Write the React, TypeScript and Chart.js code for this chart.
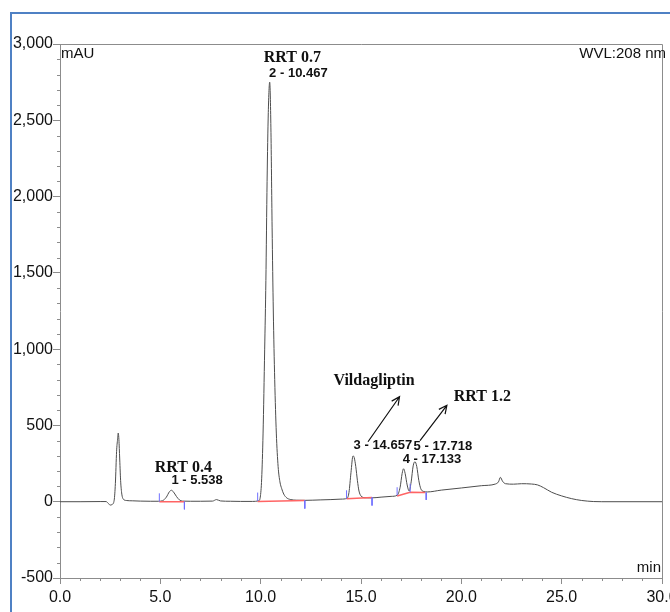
import React, { useEffect, useRef } from "react";
import { Chart, registerables } from "chart.js";

Chart.register(...registerables);

// Chromatogram trace (retention time in min, absorbance in mAU)
const retentionTime = [
  0.0, 1.0, 2.0, 2.3, 2.4, 2.5, 2.6, 2.7, 2.76, 2.82, 2.87, 2.9, 2.93, 2.97, 3.02, 3.08, 3.15, 3.3, 3.6, 4.0,
  4.5, 4.9, 5.1, 5.3, 5.45, 5.55, 5.65, 5.8, 5.95, 6.1, 6.5, 7.0, 7.6, 7.8, 8.0, 8.5, 9.0, 9.6, 9.9, 9.98,
  10.05, 10.12, 10.2, 10.26, 10.32, 10.38, 10.45, 10.51, 10.57, 10.63, 10.7, 10.78, 10.87, 10.96, 11.05, 11.15, 11.3, 11.5, 11.8, 12.2,
  13.0, 13.5, 14.0, 14.3,
  14.4, 14.5, 14.6, 14.66, 14.74, 14.82, 14.9, 15.0, 15.2, 15.5, 16.0, 16.5, 16.8, 16.95, 17.05, 17.12, 17.2, 17.3, 17.4, 17.5,
  17.6, 17.69, 17.78, 17.88, 17.98, 18.1, 18.3, 19.0, 20.0, 21.0, 21.7, 21.85, 21.95, 22.05, 22.2, 22.6, 23.0, 23.5, 23.8, 24.1,
  24.5, 25.0, 25.5, 26.0, 26.6, 27.0, 30.0,
];
const absorbance = [
  0, 0, 1, 1, -10, -22, -18, 10, 120, 330, 410, 450, 420, 300, 140, 50, 18, 8, 6, 4,
  3, 3, 6, 30, 65, 75, 65, 35, 12, 4, 3, 3, 4, 14, 5, 3, 2, 2, 6, 30,
  150, 450, 1000, 1450, 2100, 2550, 2750, 2450, 1800, 1250, 800, 450, 230, 130, 85, 50, 25, 14, 10, 9,
  12, 14, 17, 22,
  60, 190, 300, 290, 230, 140, 70, 38, 26, 25, 30, 35, 42, 95, 185, 216, 185, 110, 70, 130,
  235, 262, 230, 140, 85, 68, 64, 76, 90, 105, 116, 130, 160, 135, 118, 115, 118, 116, 110, 92,
  62, 38, 20, 8, 1, 0, 0,
];

// Integration baselines (red)
const baselineStartTime = [4.95, 9.85, 14.28, 16.8, 17.45];
const baselineStartValue = [0, 2, 20, 38, 62];
const baselineEndTime = [6.2, 12.2, 15.55, 17.45, 18.2];
const baselineEndValue = [0, 8, 27, 62, 60];

// Peak start / end markers (blue)
const markerTime = [4.95, 6.2, 9.85, 12.2, 14.28, 15.55, 16.8, 17.45, 18.25];
const markerFrom = [0, 0, 5, 8, 20, 28, 42, 62, 60];
const markerTo = [55, -50, 60, -45, 75, -25, 95, 118, 12];

// Peak labels
const peakLabels = ["1 - 5.538", "2 - 10.467", "3 - 14.657", "4 - 17.133", "5 - 17.718"];
const peakLabelTime = [6.83, 11.88, 16.09, 18.54, 19.08];
const peakLabelValue = [137, 2809, 367, 275, 360];

// Named impurity labels
const rrtLabels = ["RRT 0.4", "RRT 0.7", "Vildagliptin", "RRT 1.2"];
const rrtLabelTime = [6.15, 11.58, 15.65, 21.05];
const rrtLabelValue = [223, 2908, 792, 688];

// Arrows (from -> to)
const arrowFromTime = [15.35, 17.94];
const arrowFromValue = [393, 400];
const arrowToTime = [16.92, 19.28];
const arrowToValue = [688, 632];

// Axis ticks
const xTicks = [0, 5, 10, 15, 20, 25, 30];
const yTicks = [-500, 0, 500, 1000, 1500, 2000, 2500, 3000];

const SANS = "'Liberation Sans', Arial, sans-serif";
const SERIF = "'Liberation Serif', 'Times New Roman', serif";
const AXIS = "#8c8c8c";

const overlayPlugin = {
  id: "overlay",
  afterDraw(chart: any) {
    const { ctx, chartArea: a, scales } = chart;
    const x = scales.x;
    const y = scales.y;
    ctx.save();

    // plot box (top and right)
    ctx.strokeStyle = AXIS;
    ctx.lineWidth = 1;
    ctx.beginPath();
    ctx.moveTo(a.left, Math.round(a.top) + 0.5);
    ctx.lineTo(Math.round(a.right) + 0.5, Math.round(a.top) + 0.5);
    ctx.lineTo(Math.round(a.right) + 0.5, a.bottom);
    ctx.stroke();

    // minor ticks
    ctx.beginPath();
    for (let t = 0; t <= 30; t += 1) {
      if (t % 5 === 0) continue;
      const px = Math.round(x.getPixelForValue(t)) + 0.5;
      ctx.moveTo(px, a.bottom);
      ctx.lineTo(px, a.bottom + 3);
    }
    for (let v = -500; v <= 3000; v += 100) {
      if (v % 500 === 0) continue;
      const py = Math.round(y.getPixelForValue(v)) + 0.5;
      ctx.moveTo(a.left, py);
      ctx.lineTo(a.left - 3, py);
    }
    ctx.stroke();

    // corner texts
    ctx.fillStyle = "#111";
    ctx.font = `15px ${SANS}`;
    ctx.textBaseline = "middle";
    ctx.textAlign = "left";
    ctx.fillText("mAU", a.left + 1, a.top + 10);
    ctx.textAlign = "right";
    ctx.fillText("WVL:208 nm", a.right + 4, a.top + 10);
    ctx.fillText("min", a.right - 1, a.bottom - 10);

    // peak labels
    ctx.textAlign = "center";
    ctx.font = `bold 13px ${SANS}`;
    peakLabels.forEach((s, i) => {
      ctx.fillText(s, x.getPixelForValue(peakLabelTime[i]), y.getPixelForValue(peakLabelValue[i]));
    });

    // RRT labels
    ctx.font = `bold 16px ${SERIF}`;
    rrtLabels.forEach((s, i) => {
      ctx.fillText(s, x.getPixelForValue(rrtLabelTime[i]), y.getPixelForValue(rrtLabelValue[i]));
    });

    // arrows
    ctx.strokeStyle = "#111";
    ctx.lineWidth = 1.2;
    arrowFromTime.forEach((_, i) => {
      const x0 = x.getPixelForValue(arrowFromTime[i]);
      const y0 = y.getPixelForValue(arrowFromValue[i]);
      const x1 = x.getPixelForValue(arrowToTime[i]);
      const y1 = y.getPixelForValue(arrowToValue[i]);
      const ang = Math.atan2(y1 - y0, x1 - x0);
      const L = 9;
      ctx.beginPath();
      ctx.moveTo(x0, y0);
      ctx.lineTo(x1, y1);
      ctx.moveTo(x1 - L * Math.cos(ang - 0.45), y1 - L * Math.sin(ang - 0.45));
      ctx.lineTo(x1, y1);
      ctx.lineTo(x1 - L * Math.cos(ang + 0.45), y1 - L * Math.sin(ang + 0.45));
      ctx.stroke();
    });

    // blue frame
    ctx.strokeStyle = "#4f81c4";
    ctx.lineWidth = 2;
    ctx.beginPath();
    ctx.moveTo(11, chart.height);
    ctx.lineTo(11, 13);
    ctx.lineTo(chart.width, 13);
    ctx.stroke();

    ctx.restore();
  },
};

export default function App() {
  const canvasRef = useRef<HTMLCanvasElement | null>(null);

  useEffect(() => {
    if (!canvasRef.current) return;

    const trace = retentionTime.map((t, i) => ({ x: t, y: absorbance[i] }));
    const baseline: any[] = [];
    baselineStartTime.forEach((t, i) => {
      baseline.push({ x: t, y: baselineStartValue[i] });
      baseline.push({ x: baselineEndTime[i], y: baselineEndValue[i] });
      baseline.push({ x: baselineEndTime[i], y: null });
    });
    const markers: any[] = [];
    markerTime.forEach((t, i) => {
      markers.push({ x: t, y: markerFrom[i] });
      markers.push({ x: t, y: markerTo[i] });
      markers.push({ x: t + 0.001, y: null });
    });

    const chart = new Chart(canvasRef.current, {
      type: "line",
      data: {
        datasets: [
          {
            data: markers,
            borderColor: "#6f6fff",
            borderWidth: 1,
            pointRadius: 0,
            spanGaps: false,
            order: 0,
          },
          {
            data: baseline,
            borderColor: "#ff6464",
            borderWidth: 1.5,
            pointRadius: 0,
            spanGaps: false,
            order: 1,
          },
          {
            data: trace,
            borderColor: "#4d4d4d",
            borderWidth: 1,
            pointRadius: 0,
            cubicInterpolationMode: "monotone",
            order: 2,
          },
        ],
      },
      options: {
        animation: false,
        responsive: false,
        maintainAspectRatio: false,
        layout: { padding: { top: 44, right: 8, left: 0, bottom: 0 } },
        plugins: { legend: { display: false }, tooltip: { enabled: false } },
        scales: {
          x: {
            type: "linear",
            min: 0,
            max: 30,
            afterBuildTicks: (s: any) => {
              s.ticks = xTicks.map((v) => ({ value: v }));
            },
            afterFit: (s: any) => {
              s.height = 34;
              s.paddingLeft = 0;
              s.paddingRight = 0;
            },
            grid: { display: true, drawOnChartArea: false, drawTicks: true, tickLength: 6, color: AXIS },
            border: { display: true, color: AXIS },
            ticks: {
              color: "#111",
              font: { family: SANS, size: 16 },
              padding: 4,
              maxRotation: 0,
              autoSkip: false,
              callback: (v: any) => Number(v).toFixed(1),
            },
          },
          y: {
            type: "linear",
            min: -500,
            max: 3000,
            afterBuildTicks: (s: any) => {
              s.ticks = yTicks.map((v) => ({ value: v }));
            },
            afterFit: (s: any) => {
              s.width = 60;
              s.paddingTop = 0;
              s.paddingBottom = 0;
            },
            grid: { display: true, drawOnChartArea: false, drawTicks: true, tickLength: 7, color: AXIS },
            border: { display: true, color: AXIS },
            ticks: {
              color: "#111",
              font: { family: SANS, size: 16 },
              padding: 0,
              autoSkip: false,
              callback: (v: any) => Number(v).toLocaleString("en-US"),
            },
          },
        },
      },
      plugins: [overlayPlugin],
    });

    return () => chart.destroy();
  }, []);

  return (
    <div style={{ position: "fixed", left: 0, top: 0, width: 670, height: 612, background: "#fff" }}>
      <canvas ref={canvasRef} width={670} height={612} style={{ display: "block" }} />
    </div>
  );
}
